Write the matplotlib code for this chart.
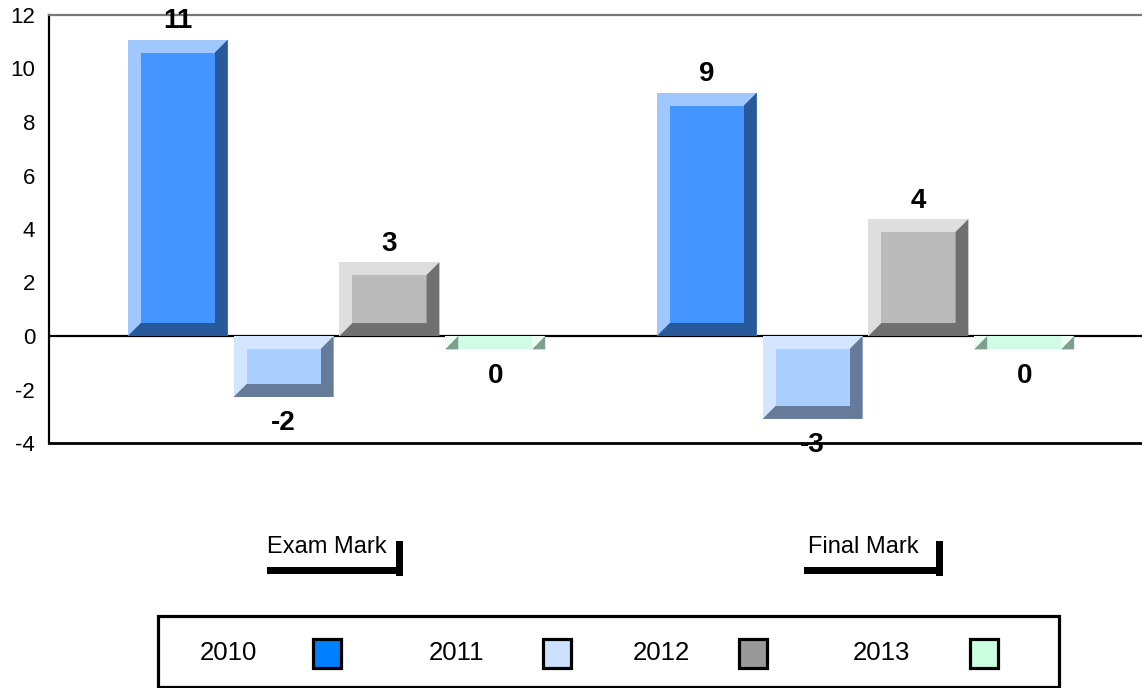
import matplotlib
matplotlib.use("Agg")
import matplotlib.pyplot as plt
from matplotlib.patches import Polygon, Rectangle
from matplotlib.transforms import blended_transform_factory

plt.rcParams['font.family'] = ['Liberation Sans', 'DejaVu Sans']
plt.rcParams['axes.unicode_minus'] = False

# data
categories = ['Exam Mark', 'Final Mark']
years = ['2010', '2011', '2012', '2013']
v2010 = [11.08, 9.1]
v2011 = [-2.28, -3.1]
v2012 = [2.76, 4.37]
v2013 = [-0.5, -0.5]
series = [v2010, v2011, v2012, v2013]

# colours: (light bevel, face, dark bevel), legend swatch
bar_colors = [('#A0C8FF', '#4495FF', '#285A9B'),
              ('#D4E6FF', '#AACFFF', '#667B99'),
              ('#DEDEDE', '#BBBBBB', '#707070'),
              ('#EAFEF3', '#D0FCE5', '#7F9F8D')]
legend_colors = ['#0080FF', '#CCE0FF', '#999999', '#CCFFE0']

W, H = 1142, 688
dpi = 100
fig = plt.figure(figsize=(W / dpi, H / dpi), dpi=dpi)

# axes box in pixels
ax_l, ax_r, ax_t, ax_b = 49, 1142, 15, 443
ax = fig.add_axes([ax_l / W, 1 - ax_b / H, (ax_r - ax_l) / W, (ax_b - ax_t) / H])

xmin, xmax = -0.5435, 1.5227
ymin, ymax = -4, 12
ax.set_xlim(xmin, xmax)
ax.set_ylim(ymin, ymax)

px_x = (ax_r - ax_l) / (xmax - xmin)
px_y = (ax_b - ax_t) / (ymax - ymin)
bev = 13  # bevel size in pixels
bx = bev / px_x
by = bev / px_y

step = 0.2
width = 0.189
offsets = [-1.5 * step, -0.5 * step, 0.5 * step, 1.5 * step]
xs = list(range(len(categories)))

ax.axhline(0, color='black', lw=1.6, zorder=1)

for i, vals in enumerate(series):
    light, face, dark = bar_colors[i]
    pos = [x + offsets[i] for x in xs]
    bars = ax.bar(pos, vals, width=width, color=light, zorder=2)
    for rect, v in zip(bars, vals):
        x0 = rect.get_x()
        x1 = x0 + rect.get_width()
        yb = min(0, v)
        yt = max(0, v)
        if (yt - yb) >= 2 * by:
            dark_poly = [(x1, yt), (x1 - bx, yt - by), (x1 - bx, yb + by),
                         (x0 + bx, yb + by), (x0, yb), (x1, yb)]
            ax.add_patch(Polygon(dark_poly, closed=True, color=dark, lw=0, zorder=3))
            ax.add_patch(Rectangle((x0 + bx, yb + by), x1 - x0 - 2 * bx,
                                   yt - yb - 2 * by, color=face, lw=0, zorder=4))
        else:
            ax.add_patch(Rectangle((x0 + bx, yb), x1 - x0 - 2 * bx, yt - yb,
                                   color=face, lw=0, zorder=4))
            for cx in (x0, x1 - bx):
                ax.add_patch(Polygon([(cx, yb), (cx + bx, yt), (cx + bx, yb)],
                                     closed=True, color=dark, lw=0, zorder=4))
        label = str(round(v))
        xc = (x0 + x1) / 2
        if v >= 0:
            ax.annotate(label, (xc, v), xytext=(0, 8), textcoords='offset points',
                        ha='center', va='baseline', fontsize=20, fontweight='bold',
                        zorder=6, annotation_clip=False)
        else:
            ax.annotate(label, (xc, v), xytext=(0, -24), textcoords='offset points',
                        ha='center', va='baseline', fontsize=20, fontweight='bold',
                        zorder=6, annotation_clip=False)

# axes styling
ax.set_yticks(range(-4, 13, 2))
ax.set_xticks([])
ax.tick_params(axis='y', length=0, pad=10, labelsize=16)
ax.spines['right'].set_visible(False)
ax.spines['top'].set_color('#777777')
ax.spines['top'].set_linewidth(1.6)
ax.spines['left'].set_linewidth(1.6)
ax.spines['bottom'].set_linewidth(2)

# category labels with L-shaped underline
tr = blended_transform_factory(ax.transData, fig.transFigure)
text_left = [-0.131, -0.109]
line_x0 = [-0.131, -0.116]
line_x1 = [0.126, 0.1465]
for k, cat in enumerate(categories):
    fig.text(xs[k] + text_left[k], 1 - 553 / H, cat, transform=tr,
             ha='left', va='baseline', fontsize=17)
    fig.add_artist(Rectangle((xs[k] + line_x0[k], 1 - 574 / H),
                             line_x1[k] - line_x0[k], 7 / H,
                             transform=tr, color='black', lw=0))
    fig.add_artist(Rectangle((xs[k] + line_x1[k] - 7 / px_x, 1 - 576 / H),
                             7 / px_x, 35 / H,
                             transform=tr, color='black', lw=0))

# legend box
fig.add_artist(Rectangle((158 / W, 1 - 687 / H), (1059 - 158) / W, (687 - 616) / H,
                         transform=fig.transFigure, fill=False, ec='black', lw=2.3))
text_x = [200, 429, 633, 853]
box_x = [313, 543, 739, 970]
for k, yr in enumerate(years):
    fig.text(text_x[k] / W, 1 - 653 / H, yr, ha='left', va='center', fontsize=18.5)
    fig.add_artist(Rectangle((box_x[k] / W, 1 - 668 / H), 28 / W, 29 / H,
                             transform=fig.transFigure, fc=legend_colors[k],
                             ec='black', lw=2.3))

fig.savefig('out.png', dpi=dpi)
